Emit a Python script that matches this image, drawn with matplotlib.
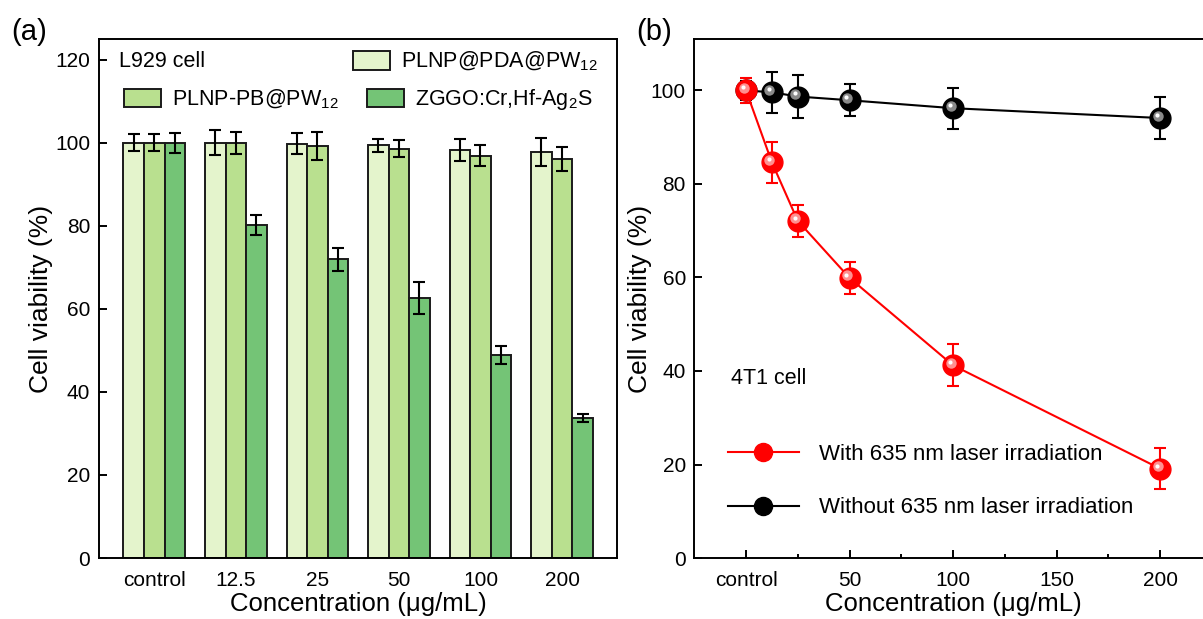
import matplotlib
matplotlib.use('Agg')
import matplotlib.pyplot as plt
import matplotlib.transforms as mtransforms
from matplotlib.patches import Patch
from matplotlib.lines import Line2D
import numpy as np

plt.rcParams['font.family'] = ['Liberation Sans', 'DejaVu Sans']
plt.rcParams['mathtext.fontset'] = 'custom'
plt.rcParams['mathtext.rm'] = 'Liberation Sans'
plt.rcParams['mathtext.it'] = 'Liberation Sans'
plt.rcParams['xtick.labelsize'] = 15
plt.rcParams['ytick.labelsize'] = 15
plt.rcParams['axes.labelsize'] = 18.5
plt.rcParams['axes.linewidth'] = 1.4

# ---------------- data: panel (a) ---------------- #
groups_a = ['control', '12.5', '25', '50', '100', '200']
labels_a = ['PLNP@PDA@PW$_{12}$', 'PLNP-PB@PW$_{12}$', 'ZGGO:Cr,Hf-Ag$_2$S']
pda_mean = [100.0, 100.0, 99.8, 99.4, 98.2, 97.7]
pda_err = [2.0, 3.0, 2.6, 1.6, 2.7, 3.4]
pb_mean = [100.0, 100.0, 99.2, 98.6, 96.9, 96.1]
pb_err = [2.0, 2.7, 3.3, 2.0, 2.5, 2.9]
zggo_mean = [100.0, 80.2, 71.9, 62.6, 48.9, 33.8]
zggo_err = [2.4, 2.4, 2.7, 3.8, 2.2, 1.0]
colors_a = ['#E4F4CC', '#B9E08F', '#74C476']

# ---------------- data: panel (b) ---------------- #
conc_b = [0, 12.5, 25, 50, 100, 200]
laser_mean = [100.0, 84.6, 72.1, 59.9, 41.2, 19.1]
laser_err = [2.6, 4.3, 3.4, 3.4, 4.5, 4.4]
dark_mean = [100.0, 99.6, 98.7, 97.9, 96.2, 94.1]
dark_err = [2.0, 4.4, 4.5, 3.4, 4.4, 4.5]
xticks_b = [0, 50, 100, 150, 200]
xticklabels_b = ['control', '50', '100', '150', '200']

fig = plt.figure(figsize=(12.03, 6.19), dpi=100)

# ----------------------------------------------- #
# -------------- panel (a) ---------------------- #
# ----------------------------------------------- #
ax1 = fig.add_axes([0.0819, 0.0985, 0.4314, 0.8385])
x = np.arange(len(groups_a))
w = 0.252
for i, (m, e) in enumerate([(pda_mean, pda_err), (pb_mean, pb_err), (zggo_mean, zggo_err)]):
    ax1.bar(x + (i - 1) * w, m, w, color=colors_a[i], edgecolor='#1a1a1a', linewidth=1.4,
            yerr=e, error_kw=dict(ecolor='black', elinewidth=1.5, capsize=4.5, capthick=1.5))

ax1.set_xlim(-0.683, 5.68)
ax1.set_ylim(0, 125)
ax1.set_xticks(x)
ax1.set_xticklabels(groups_a)
ax1.set_yticks(np.arange(0, 121, 20))
ax1.tick_params(axis='x', length=0, pad=9)
ax1.tick_params(axis='y', direction='in', length=6, width=1.4, pad=6)
ax1.set_ylabel('Cell viability (%)', fontsize=19)
ax1.set_xlabel('Concentration (μg/mL)', labelpad=2)
ax1.yaxis.set_label_coords(-0.088, 0.5)
ax1.text(0.040, 0.956, 'L929 cell', transform=ax1.transAxes, fontsize=15.5, va='center', ha='left')

hs = [Patch(facecolor=c, edgecolor='#1a1a1a', linewidth=1.4) for c in colors_a]
leg_kw = dict(frameon=False, fontsize=15.5, handlelength=1.71, handleheight=0.93,
              handletextpad=0.53, borderpad=0, borderaxespad=0, loc='center left')
leg1 = ax1.legend([hs[0]], [labels_a[0]], bbox_to_anchor=(0.490, 0.956), **leg_kw)
ax1.add_artist(leg1)
ax1.legend([hs[1], hs[2]], [labels_a[1], labels_a[2]], ncol=2, columnspacing=1.3,
           bbox_to_anchor=(0.0495, 0.8825), **leg_kw)

# ----------------------------------------------- #
# -------------- panel (b) ---------------------- #
# ----------------------------------------------- #
ax2 = fig.add_axes([0.5771, 0.0985, 0.4304, 0.8385])


def sphere(ax, xs, ys, color, shade, z):
    ax.plot(xs, ys, linestyle='none', marker='o', ms=15, mfc=color, mec=color, zorder=z)
    off1 = mtransforms.offset_copy(ax.transData, fig=fig, x=-1.8, y=1.8, units='points')
    ax.plot(xs, ys, linestyle='none', marker='o', ms=7.5, mfc=shade, mec='none', transform=off1, zorder=z + 0.1)
    off2 = mtransforms.offset_copy(ax.transData, fig=fig, x=-2.3, y=2.3, units='points')
    ax.plot(xs, ys, linestyle='none', marker='o', ms=3, mfc='white', mec='none', transform=off2, zorder=z + 0.2)


ax2.errorbar(conc_b, dark_mean, yerr=dark_err, color='black', lw=1.5, elinewidth=1.5,
             capsize=4, capthick=1.5, zorder=2)
sphere(ax2, conc_b, dark_mean, 'black', '#8a8a8a', 3)
ax2.errorbar(conc_b, laser_mean, yerr=laser_err, color='#FF0000', lw=1.5, elinewidth=1.5,
             capsize=4, capthick=1.5, zorder=4)
sphere(ax2, conc_b, laser_mean, '#FF0000', '#FF9090', 5)

ax2.set_xlim(-25, 225)
ax2.set_ylim(0, 111)
ax2.set_xticks(xticks_b)
ax2.set_xticklabels(xticklabels_b)
ax2.set_xticks([25, 75, 125, 175], minor=True)
ax2.set_yticks(np.arange(0, 101, 20))
ax2.tick_params(axis='both', which='major', direction='in', length=5.5, width=1.4)
ax2.tick_params(axis='x', which='major', pad=9)
ax2.tick_params(axis='y', which='major', pad=6)
ax2.tick_params(axis='x', which='minor', direction='in', length=3, width=1.4)
ax2.set_ylabel('Cell viability (%)', fontsize=19)
ax2.set_xlabel('Concentration (μg/mL)', labelpad=2)
ax2.yaxis.set_label_coords(-0.081, 0.5)
ax2.text(0.071, 0.345, '4T1 cell', transform=ax2.transAxes, fontsize=15.5, va='center', ha='left')

h_red = Line2D([], [], color='#FF0000', lw=1.5, marker='o', ms=13, mfc='#FF0000', mec='#FF0000')
h_blk = Line2D([], [], color='black', lw=1.5, marker='o', ms=13, mfc='black', mec='black')
ax2.legend([h_red, h_blk], ['With 635 nm laser irradiation', 'Without 635 nm laser irradiation'],
           loc='center left', bbox_to_anchor=(0.065, 0.148), frameon=False, fontsize=16,
           handlelength=3.2, handletextpad=0.9, labelspacing=1.45, borderpad=0, borderaxespad=0)

fig.text(0.009, 0.949, '(a)', fontsize=21, va='center')
fig.text(0.529, 0.949, '(b)', fontsize=21, va='center')

plt.savefig('out.png', dpi=100)
